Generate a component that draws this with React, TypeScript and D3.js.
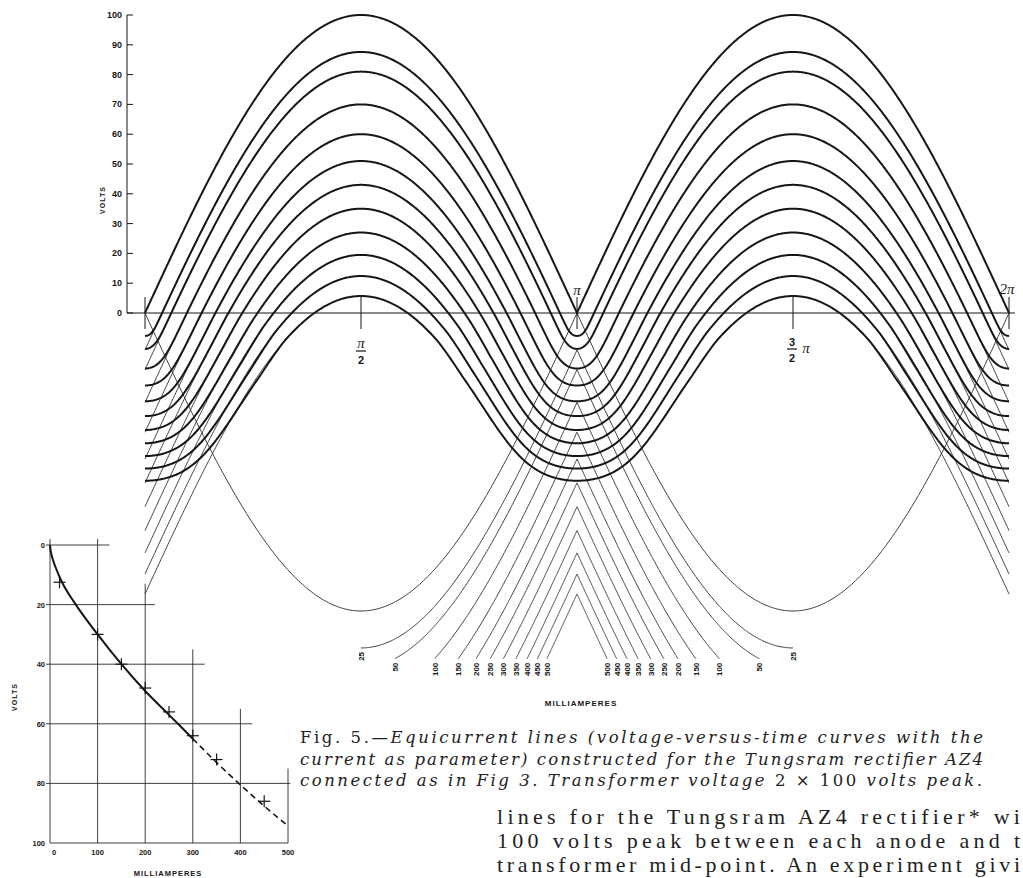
import React from 'react';
import * as d3 from 'd3';

const W = 1023;
const H = 878;

const currents = [0, 25, 50, 100, 150, 200, 250, 300, 350, 400, 450, 500];
const drops = [0, 12.4, 19, 30, 40, 49, 57, 65, 73, 80.5, 87.6, 94.3];
// inset characteristic, incl. low current points read from the U bottoms at pi
const charMA = [0, 0.5, 2, 5, 12.5, 25, 50, 100, 150, 200, 250, 300, 350, 400, 450, 500];
const charV = [0, 0.9, 2.4, 4.4, 7.8, 12.4, 19, 30, 40, 49, 57, 65, 73, 80.5, 87.6, 94.3];
const peakVolts = 100;
const cutVolts = -116;
const voltTicks = [0, 10, 20, 30, 40, 50, 60, 70, 80, 90, 100];

// inset
const markerMA = [20, 100, 150, 200, 250, 300, 350, 450];
const markerV = [12.5, 30, 40, 48, 56, 64, 72, 86];
const insetVTicks = [0, 20, 40, 60, 80, 100];
const insetMATicks = [0, 100, 200, 300, 400, 500];
const gridRowV = [0, 20, 40, 60, 80];
const gridRowEnds = [125, 220, 325, 425, 505];
const gridColMA = [100, 200, 300, 400, 500];
const gridColStarts = [-2, 13, 35, 55, 75];

const INK = '#161616';
const SANS = '"Liberation Sans", Arial, sans-serif';
const SERIF = '"Liberation Serif", "Times New Roman", serif';
const WIDE_SERIF = '"DejaVu Serif", "Liberation Serif", serif';

// smooth monotone curve through read points (Fritsch-Carlson), flat start
function monotone(xs: number[], ys: number[]) {
  const n = xs.length;
  const m: number[] = [];
  for (let k = 0; k < n - 1; k++) m.push((ys[k + 1] - ys[k]) / (xs[k + 1] - xs[k]));
  const t: number[] = new Array(n);
  t[0] = 0;
  t[n - 1] = m[n - 2];
  for (let k = 1; k < n - 1; k++) t[k] = m[k - 1] * m[k] <= 0 ? 0 : (m[k - 1] + m[k]) / 2;
  for (let k = 0; k < n - 1; k++) {
    if (m[k] === 0) { t[k] = 0; t[k + 1] = 0; continue; }
    const a = t[k] / m[k], b = t[k + 1] / m[k], s = a * a + b * b;
    if (s > 9) { const tau = 3 / Math.sqrt(s); t[k] = tau * a * m[k]; t[k + 1] = tau * b * m[k]; }
  }
  return (x: number) => {
    if (x <= xs[0]) return ys[0] + t[0] * (x - xs[0]);
    if (x >= xs[n - 1]) return ys[n - 1] + t[n - 1] * (x - xs[n - 1]);
    const k = d3.bisectRight(xs, x) - 1;
    const h = xs[k + 1] - xs[k], s = (x - xs[k]) / h;
    const s2 = s * s, s3 = s2 * s;
    return (2 * s3 - 3 * s2 + 1) * ys[k] + (s3 - 2 * s2 + s) * h * t[k]
      + (-2 * s3 + 3 * s2) * ys[k + 1] + (s3 - s2) * h * t[k + 1];
  };
}

const currentOf = monotone(charV, charMA);

function anodeCurrent(v: number) {
  return v <= 0 ? 0 : currentOf(v);
}

// output voltage at which both anodes together deliver current I
function equiVolt(theta: number, I: number) {
  const e = peakVolts * Math.sin(theta);
  if (I === 0) return Math.abs(e);
  let lo = -140, hi = peakVolts;
  for (let k = 0; k < 40; k++) {
    const mid = (lo + hi) / 2;
    const g = anodeCurrent(e - mid) + anodeCurrent(-e - mid);
    if (g > I) lo = mid; else hi = mid;
  }
  return (lo + hi) / 2;
}

export default function App() {
  const TWO_PI = 2 * Math.PI;
  const x = d3.scaleLinear().domain([0, TWO_PI]).range([145, 1009]);
  const y = d3.scaleLinear().domain([0, peakVolts]).range([313, 15]);
  const line = d3.line<[number, number]>().x(d => x(d[0])).y(d => y(d[1]));
  const pxRad = (x(TWO_PI) - x(0)) / TWO_PI;

  const seg = (a: number, b: number, f: (t: number) => number, n = 200) =>
    line(d3.range(n + 1).map(i => {
      const t = a + (b - a) * i / n;
      return [t, f(t)] as [number, number];
    })) as string;

  // equicurrent line, faired like a drawn curve through the commutation dips only
  const fairedLine = (I: number, d: number) => {
    if (I === 0) return seg(0, TWO_PI, t => equiVolt(t, 0), 900);
    const half = Math.asin(Math.min(1, d / (2 * peakVolts))) * pxRad;
    const sigma = Math.max(1, 0.35 * half);
    const pad = Math.ceil(3 * sigma) + 2;
    const nPx = Math.round(x(TWO_PI) - x(0));
    const raw = d3.range(-pad, nPx + pad + 1).map(p => equiVolt(p / pxRad, I));
    const r = Math.ceil(3 * sigma);
    const kern = d3.range(-r, r + 1).map(k => Math.exp(-(k * k) / (2 * sigma * sigma)));
    const ksum = d3.sum(kern);
    const inner = half + 2 * sigma;
    const period = Math.PI * pxRad;
    const pts: [number, number][] = d3.range(0, nPx + 1).map(p => {
      const rawV = raw[p + pad];
      const dist = Math.abs(p - Math.round(p / period) * period);
      if (dist > inner + sigma) return [p / pxRad, rawV];
      let acc = 0;
      for (let k = 0; k < kern.length; k++) acc += kern[k] * raw[p + pad + k - r];
      const sm = acc / ksum;
      const w = dist <= inner ? 1 : 1 - (dist - inner) / sigma;
      return [p / pxRad, w * sm + (1 - w) * rawV];
    });
    return line(pts) as string;
  };

  const thin: string[] = [];
  const bold: string[] = [];
  const labels: { x: number; y: number; t: string }[] = [];

  currents.forEach((I, i) => {
    const d = drops[i];
    bold.push(fairedLine(I, d));
    if (I === 0) {
      thin.push(seg(0, Math.PI, t => -peakVolts * Math.sin(t)));
      thin.push(seg(Math.PI, TWO_PI, t => peakVolts * Math.sin(t)));
      return;
    }
    const s = Math.min(1, (-cutVolts - d) / peakVolts);
    const tL = Math.PI - Math.asin(s);
    const tR = Math.PI + Math.asin(s);
    thin.push(seg(0, Math.PI / 3, t => peakVolts * Math.sin(t) - d));
    thin.push(seg(tL, Math.PI, t => -peakVolts * Math.sin(t) - d));
    thin.push(seg(Math.PI, tR, t => peakVolts * Math.sin(t) - d));
    thin.push(seg(5 * Math.PI / 3, TWO_PI, t => -peakVolts * Math.sin(t) - d));
    labels.push({ x: x(tL), y: y(-peakVolts * Math.sin(tL) - d), t: String(I) });
    labels.push({ x: x(tR), y: y(peakVolts * Math.sin(tR) - d), t: String(I) });
  });

  const ticksTheta = [0, Math.PI / 2, Math.PI, 1.5 * Math.PI, TWO_PI];

  // inset
  const ix = d3.scaleLinear().domain([0, 500]).range([50, 288]);
  const iy = d3.scaleLinear().domain([0, 100]).range([545, 843]);
  const solidIdx = charMA.map((m, i) => i).filter(i => charMA[i] <= 300);
  const dashIdx = charMA.map((m, i) => i).filter(i => charMA[i] >= 300);
  const iline = d3.line<number>().x(i => ix(charMA[i])).y(i => iy(charV[i])).curve(d3.curveMonotoneX);

  return (
    <svg width={W} height={H} viewBox={`0 0 ${W} ${H}`}
      style={{ position: 'absolute', left: 0, top: 0, display: 'block', background: '#fff' }}>
      <rect width={W} height={H} fill="#fff" />

      {/* main axes */}
      <g stroke={INK} strokeWidth={1} fill="none">
        <line x1={127} x2={127} y1={y(100)} y2={y(0)} />
        <line x1={127} x2={1015} y1={y(0)} y2={y(0)} />
        {voltTicks.map(v => <line key={v} x1={127} x2={133} y1={y(v)} y2={y(v)} />)}
        {ticksTheta.map((t, i) => <line key={i} x1={x(t)} x2={x(t)} y1={297} y2={329} />)}
      </g>
      <g fontFamily={SANS} fontWeight={700} fontSize={9} fill={INK} textAnchor="end">
        {voltTicks.map(v => <text key={v} x={122} y={y(v) + 3}>{v}</text>)}
      </g>
      <text transform="translate(105,200) rotate(-90)" textAnchor="middle" fontFamily={SANS}
        fontWeight={700} fontSize={7} letterSpacing={1} fill={INK}>VOLTS</text>

      {/* curves */}
      <g fill="none" stroke="#2a2a2a" strokeWidth={0.9}>
        {thin.map((p, i) => <path key={i} d={p} />)}
      </g>
      <g fill="none" stroke={INK} strokeWidth={2}>
        {bold.map((p, i) => <path key={i} d={p} />)}
      </g>

      {/* angle labels */}
      <g fontFamily={SERIF} fontStyle="italic" fill={INK} fontSize={15}>
        <text x={x(Math.PI / 2)} y={348} textAnchor="middle">π</text>
        <text x={x(Math.PI)} y={295} textAnchor="middle">π</text>
        <text x={x(TWO_PI) - 2} y={294} textAnchor="middle">2π</text>
        <text x={x(1.5 * Math.PI) + 13} y={353} textAnchor="middle">π</text>
      </g>
      <g fontFamily={SANS} fontWeight={700} fill={INK} fontSize={11} textAnchor="middle">
        <text x={x(Math.PI / 2)} y={364}>2</text>
        <text x={x(1.5 * Math.PI) - 1} y={346}>3</text>
        <text x={x(1.5 * Math.PI) - 1} y={362}>2</text>
      </g>
      <g stroke={INK} strokeWidth={1.2}>
        <line x1={x(Math.PI / 2) - 5} x2={x(Math.PI / 2) + 5} y1={351} y2={351} />
        <line x1={x(1.5 * Math.PI) - 6} x2={x(1.5 * Math.PI) + 4} y1={349} y2={349} />
      </g>

      {/* current labels */}
      <g fontFamily={SANS} fontWeight={700} fontSize={8} fill={INK}>
        {labels.map((l, i) => (
          <text key={i} transform={`translate(${l.x + 3},${l.y + 4}) rotate(-90)`} textAnchor="end">{l.t}</text>
        ))}
      </g>
      <text x={581} y={706} textAnchor="middle" fontFamily={SANS} fontWeight={700} fontSize={8}
        letterSpacing={1} fill={INK}>MILLIAMPERES</text>

      {/* inset: tube characteristic */}
      <g stroke="#2a2a2a" strokeWidth={0.9} fill="none">
        <line x1={ix(0)} x2={ix(0)} y1={iy(-2)} y2={iy(100)} />
        <line x1={ix(0)} x2={ix(500)} y1={iy(100)} y2={iy(100)} />
        {gridRowV.map((v, i) => <line key={'r' + v} x1={ix(0) - 4} x2={ix(gridRowEnds[i])} y1={iy(v)} y2={iy(v)} />)}
        {gridColMA.map((m, i) => <line key={'c' + m} x1={ix(m)} x2={ix(m)} y1={iy(gridColStarts[i])} y2={iy(100)} />)}
      </g>
      <path d={iline(solidIdx) as string} fill="none" stroke={INK} strokeWidth={2} />
      <path d={iline(dashIdx) as string} fill="none" stroke={INK} strokeWidth={1.6} strokeDasharray="6 4" />
      <g stroke={INK} strokeWidth={1.2}>
        {markerMA.map((m, i) => (
          <g key={m}>
            <line x1={ix(m) - 6} x2={ix(m) + 6} y1={iy(markerV[i])} y2={iy(markerV[i])} />
            <line x1={ix(m)} x2={ix(m)} y1={iy(markerV[i]) - 6} y2={iy(markerV[i]) + 6} />
          </g>
        ))}
      </g>
      <g fontFamily={SANS} fontWeight={700} fontSize={7.5} fill={INK}>
        {insetVTicks.map(v => <text key={v} x={ix(0) - 5} y={iy(v) + 3} textAnchor="end">{v}</text>)}
        {insetMATicks.map(m => <text key={m} x={ix(m) + (m === 0 ? 4 : 0)} y={iy(100) + 12} textAnchor="middle">{m}</text>)}
      </g>
      <text transform="translate(17,697) rotate(-90)" textAnchor="middle" fontFamily={SANS}
        fontWeight={700} fontSize={7} letterSpacing={1} fill={INK}>VOLTS</text>
      <text x={168} y={876} textAnchor="middle" fontFamily={SANS} fontWeight={700} fontSize={7.5}
        letterSpacing={1} fill={INK}>MILLIAMPERES</text>

      {/* caption */}
      <g fontFamily={WIDE_SERIF} fontSize={16.5} fill="#222">
        <text x={300} y={743} textLength={683} lengthAdjust="spacing">
          <tspan>Fig. 5.—</tspan>
          <tspan fontStyle="italic">Equicurrent lines (voltage-versus-time curves with the</tspan>
        </text>
        <text x={300} y={765} textLength={683} lengthAdjust="spacing" fontStyle="italic">
          current as parameter) constructed for the Tungsram rectifier AZ4
        </text>
        <text x={300} y={786} textLength={682} lengthAdjust="spacing">
          <tspan fontStyle="italic">connected as in Fig 3.  Transformer voltage </tspan>
          <tspan>2 × 100 </tspan>
          <tspan fontStyle="italic">volts peak.</tspan>
        </text>
      </g>

      {/* body text */}
      <g fontFamily={SERIF} fontSize={22} fill="#1e1e1e">
        <text x={497} y={824} textLength={523} lengthAdjust="spacing">lines for the Tungsram AZ4 rectifier* wi</text>
        <text x={497} y={848} textLength={523} lengthAdjust="spacing">100 volts peak between each anode and t</text>
        <text x={497} y={872} textLength={523} lengthAdjust="spacing">transformer mid-point. An experiment givi</text>
      </g>
    </svg>
  );
}
